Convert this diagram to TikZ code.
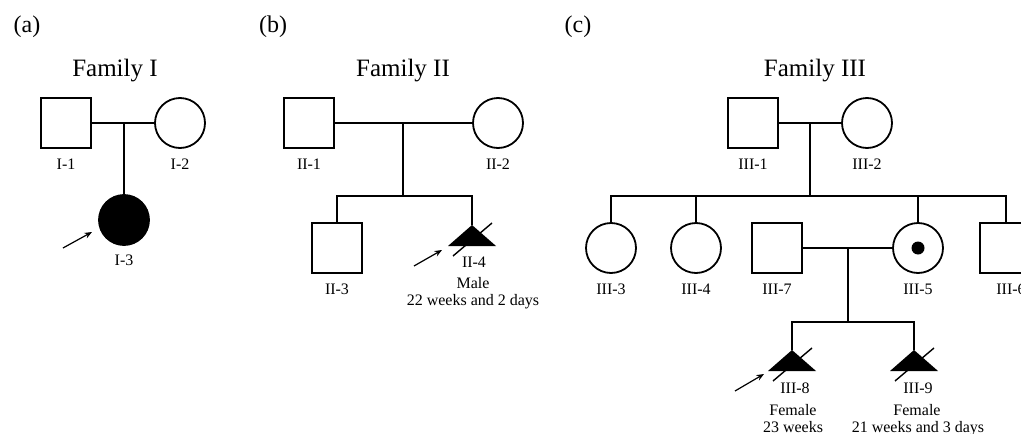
\documentclass[tikz,border=0pt]{standalone}
\usepackage{fontspec}
\setmainfont{Liberation Serif}
\usetikzlibrary{arrows.meta,calc}
\begin{document}
\begin{tikzpicture}[x=1pt,y=-1pt,
 line width=1.8pt,
 male/.style={draw,rectangle,minimum size=50pt,inner sep=0pt},
 female/.style={draw,circle,minimum size=50pt,inner sep=0pt},
 affected/.style={fill=black},
 carrierdot/.style={circle,fill=black,minimum size=13pt,inner sep=0pt},
 lbl/.style={anchor=base,font=\fontsize{16}{19}\selectfont,inner sep=0pt},
 ttl/.style={anchor=base,font=\fontsize{25}{30}\selectfont,inner sep=0pt},
 panel/.style={anchor=base,font=\fontsize{24}{29}\selectfont,inner sep=0pt},
 proband/.style={-{Stealth[length=7.5pt,width=6pt]},line width=1.2pt},
 slash/.style={line width=1.4pt},
 tri/.style={fill=black},
]
\fill[white] (0,0) rectangle (1021,434);
\clip (0,0) rectangle (1021,434);

% ---------------- Family I ----------------
\node[panel] (pa) at (27,32) {(a)};
\node[ttl] (t1) at (115,76) {Family I};
\node[male] (i1) at (66,123) {};
\node[female] (i2) at (180,123) {};
\node[female,affected] (i3) at (124,220) {};
\coordinate (m1) at (124,123);
\draw (i1.east) -- (i2.west);
\draw (m1) -- (i3.north);
\node[lbl] (li1) at (66,169) {I-1};
\node[lbl] (li2) at (180,169) {I-2};
\node[lbl] (li3) at (124,265) {I-3};
\coordinate (a1s) at (63,248);
\coordinate (a1e) at (92,232);
\draw[proband] (a1s) -- (a1e);

% ---------------- Family II ----------------
\node[panel] (pb) at (273,32) {(b)};
\node[ttl] (t2) at (403,76) {Family II};
\node[male] (ii1) at (309,123) {};
\node[female] (ii2) at (498,123) {};
\coordinate (m2) at (403,123);
\coordinate (s2) at (403,196);
\node[male] (ii3) at (337,248) {};
\coordinate (ii4) at (472,225);
\draw (ii1.east) -- (ii2.west);
\draw (m2) -- (s2);
\draw (ii3.north) |- (s2) -| (ii4);
\fill[tri] (ii4) -- ++(24,21) -- ++(-48,0) -- cycle;
\draw[slash] ([shift={(-19,31)}]ii4) -- ([shift={(20,-2)}]ii4);
\node[lbl] (lii1) at (309,169) {II-1};
\node[lbl] (lii2) at (498,169) {II-2};
\node[lbl] (lii3) at (337,294) {II-3};
\node[lbl] (lii4) at (474,267) {II-4};
\node[lbl] (lii4a) at (473,288) {Male};
\node[lbl] (lii4b) at (473,305) {22 weeks and 2 days};
\coordinate (a2s) at (414,266);
\coordinate (a2e) at (442,250);
\draw[proband] (a2s) -- (a2e);

% ---------------- Family III ----------------
\node[panel] (pc) at (578,32) {(c)};
\node[ttl] (t3) at (815,76) {Family III};
\node[male] (iii1) at (753,123) {};
\node[female] (iii2) at (867,123) {};
\coordinate (m3) at (810,123);
\coordinate (s3) at (810,196);
\node[female] (iii3) at (611,248) {};
\node[female] (iii4) at (696,248) {};
\node[male] (iii7) at (777,248) {};
\node[female] (iii5) at (918,248) {};
\node[carrierdot] (iii5d) at (918,248) {};
\node[male] (iii6) at (1005,248) {};
\draw (iii1.east) -- (iii2.west);
\draw (m3) -- (s3);
\draw (iii3.north) |- (s3) -| ([xshift=1pt]iii6.north);
\draw (iii4.north) -- (iii4.north |- s3);
\draw (iii5.north) -- (iii5.north |- s3);
\coordinate (m4) at (848,248);
\coordinate (s4) at (848,322);
\coordinate (iii8) at (792,350);
\coordinate (iii9) at (914,350);
\draw (iii7.east) -- (iii5.west);
\draw (m4) -- (s4);
\draw (iii8) |- (s4) -| (iii9);
\fill[tri] (iii8) -- ++(24,21) -- ++(-48,0) -- cycle;
\fill[tri] (iii9) -- ++(24,21) -- ++(-48,0) -- cycle;
\draw[slash] ([shift={(-19,31)}]iii8) -- ([shift={(20,-2)}]iii8);
\draw[slash] ([shift={(-19,31)}]iii9) -- ([shift={(20,-2)}]iii9);
\node[lbl] (liii1) at (753,169) {III-1};
\node[lbl] (liii2) at (867,169) {III-2};
\node[lbl] (liii3) at (611,294) {III-3};
\node[lbl] (liii4) at (696,294) {III-4};
\node[lbl] (liii7) at (777,294) {III-7};
\node[lbl] (liii5) at (918,294) {III-5};
\node[lbl] (liii6) at (1011,294) {III-6};
\node[lbl] (liii8) at (795,393) {III-8};
\node[lbl] (liii8a) at (793,415) {Female};
\node[lbl] (liii8b) at (793,432) {23 weeks};
\node[lbl] (liii9) at (918,393) {III-9};
\node[lbl] (liii9a) at (917,415) {Female};
\node[lbl] (liii9b) at (918,432) {21 weeks and 3 days};
\coordinate (a3s) at (735,391);
\coordinate (a3e) at (764,374);
\draw[proband] (a3s) -- (a3e);
\end{tikzpicture}
\end{document}
